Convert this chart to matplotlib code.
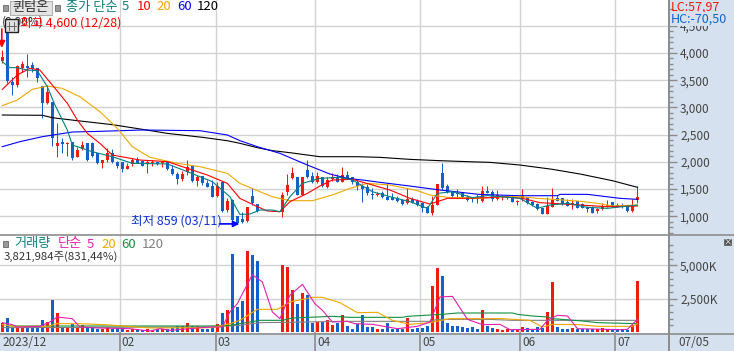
import numpy as np
import matplotlib
matplotlib.use('Agg')
import matplotlib.pyplot as plt
from matplotlib.patches import Rectangle

plt.rcParams['font.family'] = ['Noto Sans CJK KR', 'DejaVu Sans']

# 가격 (봉 128개, 52~55 거래정지)
opens = [3860, 4361, 3467, 3405, 3724, 3767, 3779, 3724, 3393, 3075,
         3105, 2297, 2370, 2333, 2358, 2094, 2229, 2340, 2346, 2156,
         1984, 2033, 2156, 2003, 1990, 1874, 1960, 2027, 2015, 1954,
         1978, 1990, 1978, 1996, 1868, 1782, 1678, 1812, 1923, 1647,
         1733, 1616, 1555, 1371, 1623, 1114, 1304, 1000, 948, 912,
         1371, 1224, np.nan, np.nan, np.nan, np.nan, 1083, 1439, 1696, 1715,
         1390, 1849, 1733, 1623, 1715, 1531, 1678, 1702, 1635, 1751,
         1715, 1635, 1555, 1531, 1408, 1390, 1420, 1359, 1359, 1335,
         1298, 1243, 1322, 1279, 1237, 1175, 1065, 1206, 1788, 1561,
         1451, 1426, 1420, 1359, 1335, 1335, 1279, 1470, 1451, 1316,
         1347, 1353, 1377, 1261, 1329, 1347, 1267, 1224, 1145, 1040,
         1175, 1341, 1329, 1261, 1200, 1279, 1224, 1175, 1163, 1102,
         1126, 1175, 1255, 1206, 1206, 1188, 1102, 1304]
closes = [3930, 3490, 3418, 3761, 3798, 3730, 3706, 3534, 3087, 3277,
          2431, 2340, 2333, 2352, 2064, 2217, 2303, 2033, 2113, 1972,
          2033, 2168, 1990, 1929, 1868, 1923, 2027, 1984, 1929, 1990,
          1996, 1960, 1996, 1862, 1776, 1684, 1776, 1898, 1647, 1721,
          1616, 1531, 1359, 1555, 1102, 1285, 930, 880, 887, 1175,
          1237, 1096, np.nan, np.nan, np.nan, np.nan, 1384, 1574, 1800, 1390,
          1715, 1715, 1623, 1733, 1555, 1672, 1715, 1635, 1751, 1702,
          1635, 1555, 1506, 1433, 1390, 1408, 1353, 1304, 1304, 1279,
          1224, 1316, 1249, 1206, 1145, 1065, 1206, 1592, 1512, 1451,
          1371, 1402, 1347, 1304, 1316, 1311, 1463, 1433, 1316, 1390,
          1371, 1371, 1267, 1279, 1371, 1249, 1200, 1126, 1040, 1188,
          1298, 1279, 1224, 1194, 1249, 1157, 1157, 1139, 1065, 1132,
          1194, 1206, 1188, 1175, 1175, 1102, 1200, 1347]
highs = [4050, 4600, 3553, 3779, 3859, 3981, 3840, 3724, 3393, 3412,
         3105, 2719, 2431, 2370, 2358, 2278, 2388, 2352, 2358, 2168,
         2033, 2248, 2229, 2015, 2003, 1984, 2064, 2094, 2033, 2033,
         2033, 2003, 2015, 2003, 1941, 1819, 1837, 2033, 1941, 1757,
         1745, 1666, 1666, 1635, 1623, 1329, 1316, 1000, 1083, 1175,
         1512, 1230, np.nan, np.nan, np.nan, np.nan, 1439, 1776, 1898, 1715,
         1715, 2033, 1819, 1819, 1727, 1727, 1788, 1776, 1898, 1837,
         1715, 1666, 1604, 1592, 1512, 1451, 1470, 1604, 1420, 1371,
         1310, 1512, 1347, 1322, 1267, 1188, 1371, 1592, 1972, 1592,
         1470, 1494, 1451, 1390, 1359, 1402, 1561, 1561, 1482, 1482,
         1390, 1390, 1390, 1298, 1500, 1359, 1279, 1237, 1145, 1359,
         1512, 1390, 1341, 1316, 1310, 1286, 1237, 1188, 1188, 1145,
         1249, 1298, 1267, 1237, 1237, 1206, 1310, 1561]
lows = [3810, 3440, 3228, 3369, 3657, 3553, 3657, 3461, 2799, 3062,
        2297, 2094, 2156, 2107, 2033, 2082, 2217, 2015, 2094, 1960,
        1880, 2003, 1972, 1880, 1819, 1874, 1929, 1972, 1923, 1800,
        1929, 1941, 1911, 1850, 1757, 1592, 1653, 1757, 1635, 1555,
        1574, 1531, 1347, 1359, 1071, 1071, 918, 859, 870, 900,
        1206, 1075, np.nan, np.nan, np.nan, np.nan, 991, 1390, 1684, 1390,
        1390, 1696, 1604, 1604, 1543, 1512, 1647, 1635, 1623, 1678,
        1592, 1482, 1267, 1396, 1322, 1371, 1341, 1298, 1298, 1261,
        1206, 1224, 1237, 1188, 1083, 1053, 1022, 1206, 1482, 1420,
        1347, 1328, 1341, 1280, 1267, 1249, 1267, 1420, 1286, 1298,
        1298, 1310, 1267, 1206, 1279, 1224, 1188, 1114, 1040, 1040,
        1163, 1279, 1206, 1188, 1132, 1145, 1145, 1083, 1053, 1065,
        1114, 1163, 1175, 1163, 1145, 1083, 1083, 1249]

# 거래량 (K)
volume = [675, 1050, 325, 325, 325, 325, 325, 325, 900, 750,
          2400, 1425, 325, 325, 575, 325, 500, 325, 325, 250,
          250, 375, 250, 250, 250, 150, 250, 200, 150, 200,
          150, 250, 250, 200, 325, 425, 425, 675, 425, 425,
          250, 250, 325, 575, 1425, 1650, 5825, 1875, 2325, 6075,
          5775, 5325, 0, 0, 0, 0, 5025, 4875, 3150, 2100,
          2925, 2775, 675, 775, 775, 900, 525, 700, 1275, 450,
          225, 625, 1275, 375, 375, 225, 225, 675, 225, 225,
          225, 1050, 225, 300, 300, 450, 3450, 4800, 4200, 675,
          450, 450, 400, 300, 350, 250, 1650, 450, 300, 200,
          150, 250, 175, 175, 375, 300, 175, 375, 300, 1500,
          3750, 375, 225, 225, 300, 250, 200, 200, 200, 200,
          300, 225, 200, 200, 125, 125, 500, 3825]

# 가격 이동평균 (봉 번호, 값)
ma5_x = [0, 1.5, 3, 5, 7, 9, 10.5, 13, 14, 18, 22, 26, 33, 37, 42, 45.5, 47.5, 49.5,
         51.5, 54, 55.5, 57.5, 60, 63.5, 67.5, 70, 74, 77.5, 81.5, 85, 87, 90, 94, 97,
         103.5, 107, 109.5, 113, 117, 121, 127]
ma5 = [3840, 3730, 3730, 3687, 3675, 3381, 3050, 2585, 2309, 2186, 2094, 1972, 1960, 1819, 1635, 1359, 1034, 1040,
       1114, 1114, 1083, 1359, 1604, 1696, 1715, 1666, 1451, 1359, 1267, 1145, 1420, 1451, 1341, 1380,
       1329, 1145, 1206, 1237, 1163, 1145, 1206]
ma10_x = [0, 3, 5.5, 7.5, 10, 13, 15, 17, 19.5, 22, 27.5, 33, 37, 41, 45, 47.5, 51, 53, 55.5,
          57.5, 61, 63.5, 66, 70, 74, 77.5, 81.5, 85.5, 89, 92, 97.5, 99.5, 104, 107.5, 110, 115.5, 121, 127]
ma10 = [3332, 3595, 3718, 3687, 3412, 3075, 2768, 2523, 2340, 2125, 2033, 2003, 1880, 1757, 1604, 1329, 1175, 1096, 1083,
        1267, 1420, 1555, 1666, 1678, 1574, 1482, 1329, 1224, 1329, 1329, 1341, 1359, 1329, 1249, 1237, 1206, 1175, 1188]
ma20_x = [0, 3, 6, 9, 12, 15.5, 19.5, 23, 26, 29.5, 35, 39.5, 45, 47.5, 51, 54, 57.5, 62, 66,
          69.5, 73, 77.5, 83, 85.5, 89, 95.5, 99.5, 103.5, 107, 110, 115, 119, 122, 127]
ma20 = [3032, 3136, 3332, 3393, 3350, 3197, 2922, 2615, 2278, 2082, 1972, 1911, 1788, 1604, 1470, 1359, 1286, 1286, 1390,
        1512, 1604, 1574, 1470, 1390, 1347, 1329, 1359, 1359, 1329, 1310, 1280, 1237, 1188, 1206]
ma60_x = [0, 3.5, 8, 14, 19.5, 28, 39.5, 45, 47.5, 51, 55.5, 61, 65.5, 69, 72, 75.5, 81.5, 87.5, 95.5,
          103.5, 111, 111.5, 117, 123.5, 127]
ma60 = [2278, 2370, 2462, 2548, 2560, 2585, 2572, 2493, 2389, 2278, 2156, 1941, 1776, 1696, 1666, 1623, 1555, 1482, 1400,
        1377, 1377, 1402, 1402, 1329, 1310]
ma120_x = [0, 8, 10, 15, 22, 28, 33, 40, 45, 47.5, 51, 54, 57.5, 63.5, 71, 75.5, 81.5, 87.5, 93,
           97.5, 103.5, 110, 115.5, 122, 127]
ma120 = [2860, 2855, 2811, 2756, 2683, 2597, 2523, 2450, 2388, 2340, 2260, 2205, 2168, 2094, 2094, 2082, 2045, 2021, 2003,
         1990, 1941, 1862, 1776, 1653, 1531]

# 거래량 이동평균
vol5_x = [0, 2, 3, 7.5, 9.5, 11, 14, 15.5, 19, 25.5, 29.5, 31.5, 33.5, 41.5, 44, 45.5, 47, 47.5, 50, 52, 54, 55.5,
          57.5, 60, 62.5, 64, 66, 69, 70.5, 74, 79, 83, 85.5, 87.5, 90, 93, 96, 99.5, 101.5, 107.5, 109, 111, 113, 115, 123.5, 125, 127]
vol5 = [700, 550, 375, 425, 750, 1125, 1000, 375, 300, 250, 75, 250, 125, 375, 375, 1500, 2125, 2500, 4300, 3750, 1500, 1000,
        2750, 3575, 2125, 1625, 750, 800, 625, 575, 250, 425, 750, 2625, 2675, 950, 550, 575, 175, 200, 875, 1250, 1200, 250, 175, 200, 950]
vol20_x = [0, 2.5, 9.5, 10.5, 15.5, 20.5, 29.5, 42, 45.5, 47.5, 51, 55, 57.5, 62, 64, 67.5, 71, 75, 78, 81.5, 85.5, 89.5,
           100, 105.5, 108, 110, 115.5, 119, 126, 127]
vol20 = [550, 425, 425, 625, 625, 550, 300, 325, 625, 875, 1700, 1700, 2250, 2600, 2600, 2200, 1450, 1475, 875, 575, 700, 1000,
         1000, 875, 375, 575, 550, 425, 425, 625]
vol60_x = [1, 41.5, 45.5, 47.5, 51.5, 56, 58, 66, 69.5, 80, 81, 88, 91, 102, 103, 106, 109, 110, 116, 119, 127]
vol60 = [450, 450, 500, 625, 875, 875, 1050, 1175, 1100, 1100, 1175, 1325, 1425, 1425, 1325, 1200, 1125, 1000, 825, 700, 625]
vol120_x = [0, 41.5, 47.5, 51.5, 61, 67.5, 85.5, 87, 97, 102, 127]
vol120 = [325, 375, 500, 700, 750, 800, 800, 950, 950, 875, 875]

price_ticks = [1000, 1500, 2000, 2500, 3000, 3500, 4000, 4500]
price_labels = ['1,000', '1,500', '2,000', '2,500', '3,000', '3,500', '4,000', '4,500']
vol_ticks = [2500, 5000]
vol_labels = ['2,500K', '5,000K']
month_pos = [23.5, 42.7, 62.6, 83.5, 103.5, 122.5]
month_labels = ['02', '03', '04', '05', '06', '07']

W, H = 734, 351
RED = '#ee1c0c'
BLUE = '#1560c8'
GRID = '#d2d2d2'
EDGE = '#8c8c8c'
PANEL = '#d6e1ef'
XLIM = (-0.46, 133.3)

fig = plt.figure(figsize=(W / 100, H / 100), dpi=100, facecolor=PANEL)
ax = fig.add_axes([0, 1 - 235 / H, 669 / W, 235 / H])
vax = fig.add_axes([0, 1 - 333 / H, 669 / W, 98 / H])


def px(x, y, s, **kw):
    return fig.text(x / W, 1 - y / H, s, va='center', ha=kw.pop('ha', 'left'), **kw)


x = np.arange(len(opens))
o, c, h, l = map(np.array, (opens, closes, highs, lows))
ok = ~np.isnan(o)
colors = np.where(c >= o, RED, BLUE)

# 캔들
ax.vlines(x[ok], l[ok], h[ok], colors=colors[ok], lw=0.72, zorder=3)
ax.bar(x[ok], np.maximum(np.abs(c - o)[ok], 18), bottom=np.minimum(o, c)[ok], width=0.62,
       color=colors[ok], zorder=3, lw=0, antialiased=False)

for mx, my, col in [(ma120_x, ma120, 'black'), (ma60_x, ma60, '#0000ff'), (ma20_x, ma20, '#f0a800'),
                    (ma10_x, ma10, '#ff0000'), (ma5_x, ma5, '#008080')]:
    ax.plot(mx, my, color=col, lw=0.8, zorder=4)

ax.set_xlim(*XLIM)
ax.set_ylim(655, 4974)
ax.set_yticks(price_ticks)
ax.set_yticklabels(price_labels)
ax.set_yticks(np.arange(700, 4900, 100), minor=True)

# 거래량
vax.bar(x, volume, width=0.62, color=np.where(np.isnan(o), BLUE, colors), zorder=3, lw=0, antialiased=False)
for mx, my, col in [(vol120_x, vol120, '#808080'), (vol60_x, vol60, '#109040'),
                    (vol20_x, vol20, '#f0a800'), (vol5_x, vol5, '#e020b0')]:
    vax.plot(mx, my, color=col, lw=0.8, zorder=4)
vax.set_xlim(*XLIM)
vax.set_ylim(-75, 7275)
vax.set_yticks(vol_ticks)
vax.set_yticklabels(vol_labels)
vax.set_yticks(np.arange(500, 7000, 500), minor=True)

for a in (ax, vax):
    a.yaxis.tick_right()
    a.grid(True, axis='y', color=GRID, lw=1.0, zorder=0)
    a.set_xticks(month_pos)
    a.set_xticklabels([])
    a.grid(True, axis='x', color=GRID, lw=1.0, zorder=0)
    a.tick_params(axis='x', length=0)
    a.tick_params(axis='y', which='major', length=6, width=1, color=EDGE, labelsize=8.5, labelcolor='#444444', pad=2)
    a.tick_params(axis='y', which='minor', length=3, width=1, color=EDGE)
    a.set_axisbelow(True)
    for s in ('left', 'top', 'bottom'):
        a.spines[s].set_visible(False)
    a.spines['right'].set_color(EDGE)
    a.spines['right'].set_linewidth(1.4)

# 패널 구분선, 하단 축
fig.add_artist(plt.Line2D([0, 1], [1 - 235 / H] * 2, color=EDGE, lw=1.2))
fig.add_artist(plt.Line2D([0, 1], [1 - 333.5 / H] * 2, color=EDGE, lw=1.2))
fig.add_artist(plt.Line2D([669 / W] * 2, [0, 1 - 333 / H], color=EDGE, lw=1.4))
for m, lab in zip(month_pos, month_labels):
    bx = (m - XLIM[0]) / (XLIM[1] - XLIM[0]) * 669
    fig.add_artist(plt.Line2D([bx / W] * 2, [0, 1 - 333 / H], color=EDGE, lw=1.2))
    px(bx + 2, 342, lab, fontsize=8.5, color='#444444')
px(2, 342, '2023/12', fontsize=8.5, color='#444444')
px(678, 342, '07/05', fontsize=8.5, color='#444444')

# 상단 범례
for sx, sy in [(3, 8), (55, 8), (3, 244)]:
    fig.add_artist(Rectangle((sx / W, 1 - (sy + 3) / H), 5 / W, 6 / H, transform=fig.transFigure,
                             facecolor='#999999', edgecolor='#666666', lw=0.6))
fig.add_artist(Rectangle((10 / W, 1 - 15 / H), 42 / W, 14 / H, transform=fig.transFigure,
                         facecolor='#e4e4e4', edgecolor='#b0b0b0', lw=0.8))
px(31, 7, '퀸텀온', fontsize=9.5, color='#333333', ha='center')
px(66, 7, '종가 단순', fontsize=9.5, color='#108080')
for lx, s, col in [(122, '5', '#108080'), (137, '10', '#ff0000'), (156, '20', '#f0a800'),
                   (177, '60', '#0000ff'), (197, '120', '#000000')]:
    px(lx, 7, s, fontsize=9.5, color=col)
px(2, 22, '(8,90%)', fontsize=8.5, color='#333333')
px(20, 23, '최고 4,600 (12/28)', fontsize=9, color='#ff0000')
fig.add_artist(Rectangle((5 / W, 1 - 32 / H), 13 / W, 13 / H, transform=fig.transFigure,
                         facecolor='#e0e0e0', edgecolor='#222222', lw=1.0, zorder=6))
for g in (9.3, 13.6):
    fig.add_artist(plt.Line2D([g / W] * 2, [1 - 22 / H, 1 - 30 / H], color='#555555', lw=0.6, zorder=7))
fig.add_artist(plt.Line2D([7 / W, 16 / W], [1 - 26 / H] * 2, color='#555555', lw=0.6, zorder=7))

# 최고가 표시
ax.annotate('', xy=(-0.1, 4092), xytext=(-0.1, 4441),
            arrowprops=dict(arrowstyle='-|>', color='#ff0000', lw=1.2, mutation_scale=10, shrinkA=0, shrinkB=0), zorder=6)

# 최저가 표시
ax.annotate('', xy=(47.4, 859), xytext=(43.4, 859),
            arrowprops=dict(arrowstyle='-|>', color='#0000ff', lw=1.2, mutation_scale=9, shrinkA=0, shrinkB=0), zorder=6)
px(131, 221, '최저 859 (03/11)', fontsize=9, color='#1030d0')

# 보조 수치
px(671, 7, 'LC:57,97', fontsize=9, color='#ee1c0c', zorder=8)
px(671, 19, 'HC:-70,50', fontsize=9, color='#1560c8', zorder=8,
   bbox=dict(facecolor=PANEL, edgecolor='none', pad=0.5))

# 거래량 범례
px(14, 244, '거래량', fontsize=9.5, color='#108080')
px(58, 244, '단순', fontsize=9.5, color='#e020b0')
for lx, s, col in [(87, '5', '#e020b0'), (101, '20', '#f0a800'), (121, '60', '#109040'), (142, '120', '#808080')]:
    px(lx, 244, s, fontsize=9.5, color=col)
px(4, 257, '3,821,984주(831,44%)', fontsize=8.2, color='#333333')

# 닫기 버튼
fig.add_artist(Rectangle((724 / W, 1 - 245 / H), 7 / W, 6 / H, transform=fig.transFigure,
                         facecolor='#555555', edgecolor='#555555', lw=0.5))
px(727.5, 241.5, '×', fontsize=6, color='white', ha='center')

fig.savefig('out.png', dpi=100, facecolor=fig.get_facecolor())
